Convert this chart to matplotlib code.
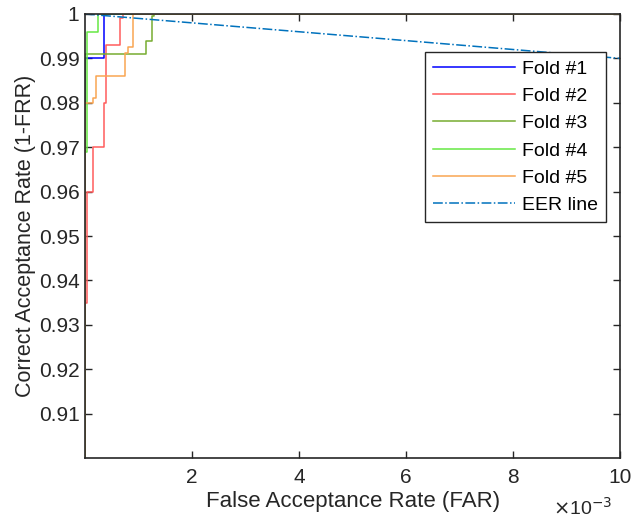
import matplotlib.pyplot as plt

plt.rcParams['font.family'] = ['Liberation Sans', 'DejaVu Sans']

# ROC step points (FAR, CAR) per fold
far1 = [0, 0, 0.00035, 0.01]
car1 = [0.90, 0.990, 1.0, 1.0]

far2 = [0, 0, 0.00004, 0.00015, 0.00036, 0.00039, 0.00065, 0.00071, 0.01]
car2 = [0.90, 0.935, 0.960, 0.970, 0.980, 0.993, 0.9991, 1.0, 1.0]

far3 = [0, 0, 0.00114, 0.00125, 0.00129, 0.01]
car3 = [0.90, 0.991, 0.994, 0.9995, 1.0, 1.0]

far4 = [0, 0, 0.00004, 0.00024, 0.01]
car4 = [0.90, 0.969, 0.996, 1.0, 1.0]

far5 = [0, 0, 0.00015, 0.00021, 0.00075, 0.0008, 0.0009, 0.01]
car5 = [0.90, 0.980, 0.981, 0.986, 0.9912, 0.9926, 1.0, 1.0]

eer_far = [0, 0.01]
eer_car = [1.0, 0.99]

labels = ['Fold #1', 'Fold #2', 'Fold #3', 'Fold #4', 'Fold #5', 'EER line']
colors = ['#0000FF', '#FF5C5C', '#77AC30', '#66E844', '#F9A552']

xticks = [0.002, 0.004, 0.006, 0.008, 0.010]
xticklabels = ['2', '4', '6', '8', '10']
yticks = [0.91, 0.92, 0.93, 0.94, 0.95, 0.96, 0.97, 0.98, 0.99, 1.0]
yticklabels = ['0.91', '0.92', '0.93', '0.94', '0.95', '0.96', '0.97', '0.98', '0.99', '1']

fig = plt.figure(figsize=(6.44, 5.18), dpi=100)
ax = fig.add_axes([0.132, 0.1158, 0.831, 0.8572])

folds = [(far1, car1), (far2, car2), (far3, car3), (far4, car4), (far5, car5)]
for (f, c), col, lab in zip(folds, colors, labels):
    ax.plot(f, c, drawstyle='steps-post', color=col, lw=1.1, label=lab)
ax.plot(eer_far, eer_car, color='#0072BD', ls='-.', lw=1.1, label=labels[5])

ax.set_xlim(0, 0.01)
ax.set_ylim(0.90, 1.0)
ax.set_xticks(xticks)
ax.set_xticklabels(xticklabels)
ax.set_yticks(yticks)
ax.set_yticklabels(yticklabels)
ax.tick_params(direction='in', length=5, width=1, labelsize=15, colors='#262626',
               top=True, right=True)
ax.tick_params(axis='x', pad=7)
ax.tick_params(axis='y', pad=4)
for s in ax.spines.values():
    s.set_color('#262626')
    s.set_linewidth(1.2)

ax.set_xlabel('False Acceptance Rate (FAR)', fontsize=16, color='#262626', labelpad=3)
ax.set_ylabel('Correct Acceptance Rate (1-FRR)', fontsize=15.5, color='#262626', labelpad=2)
ax.text(0.985, -0.088, r'$\times$10$^{-3}$', transform=ax.transAxes, ha='right', va='top',
        fontsize=14, color='#262626')

leg = ax.legend(loc='upper right', bbox_to_anchor=(0.974, 0.914), fontsize=14,
                handlelength=4.2, handletextpad=0.4, labelspacing=0.5,
                borderpad=0.4, borderaxespad=0, fancybox=False, framealpha=1)
leg.get_frame().set_edgecolor('#262626')
leg.get_frame().set_linewidth(1.0)

fig.savefig('out.png', dpi=100)
